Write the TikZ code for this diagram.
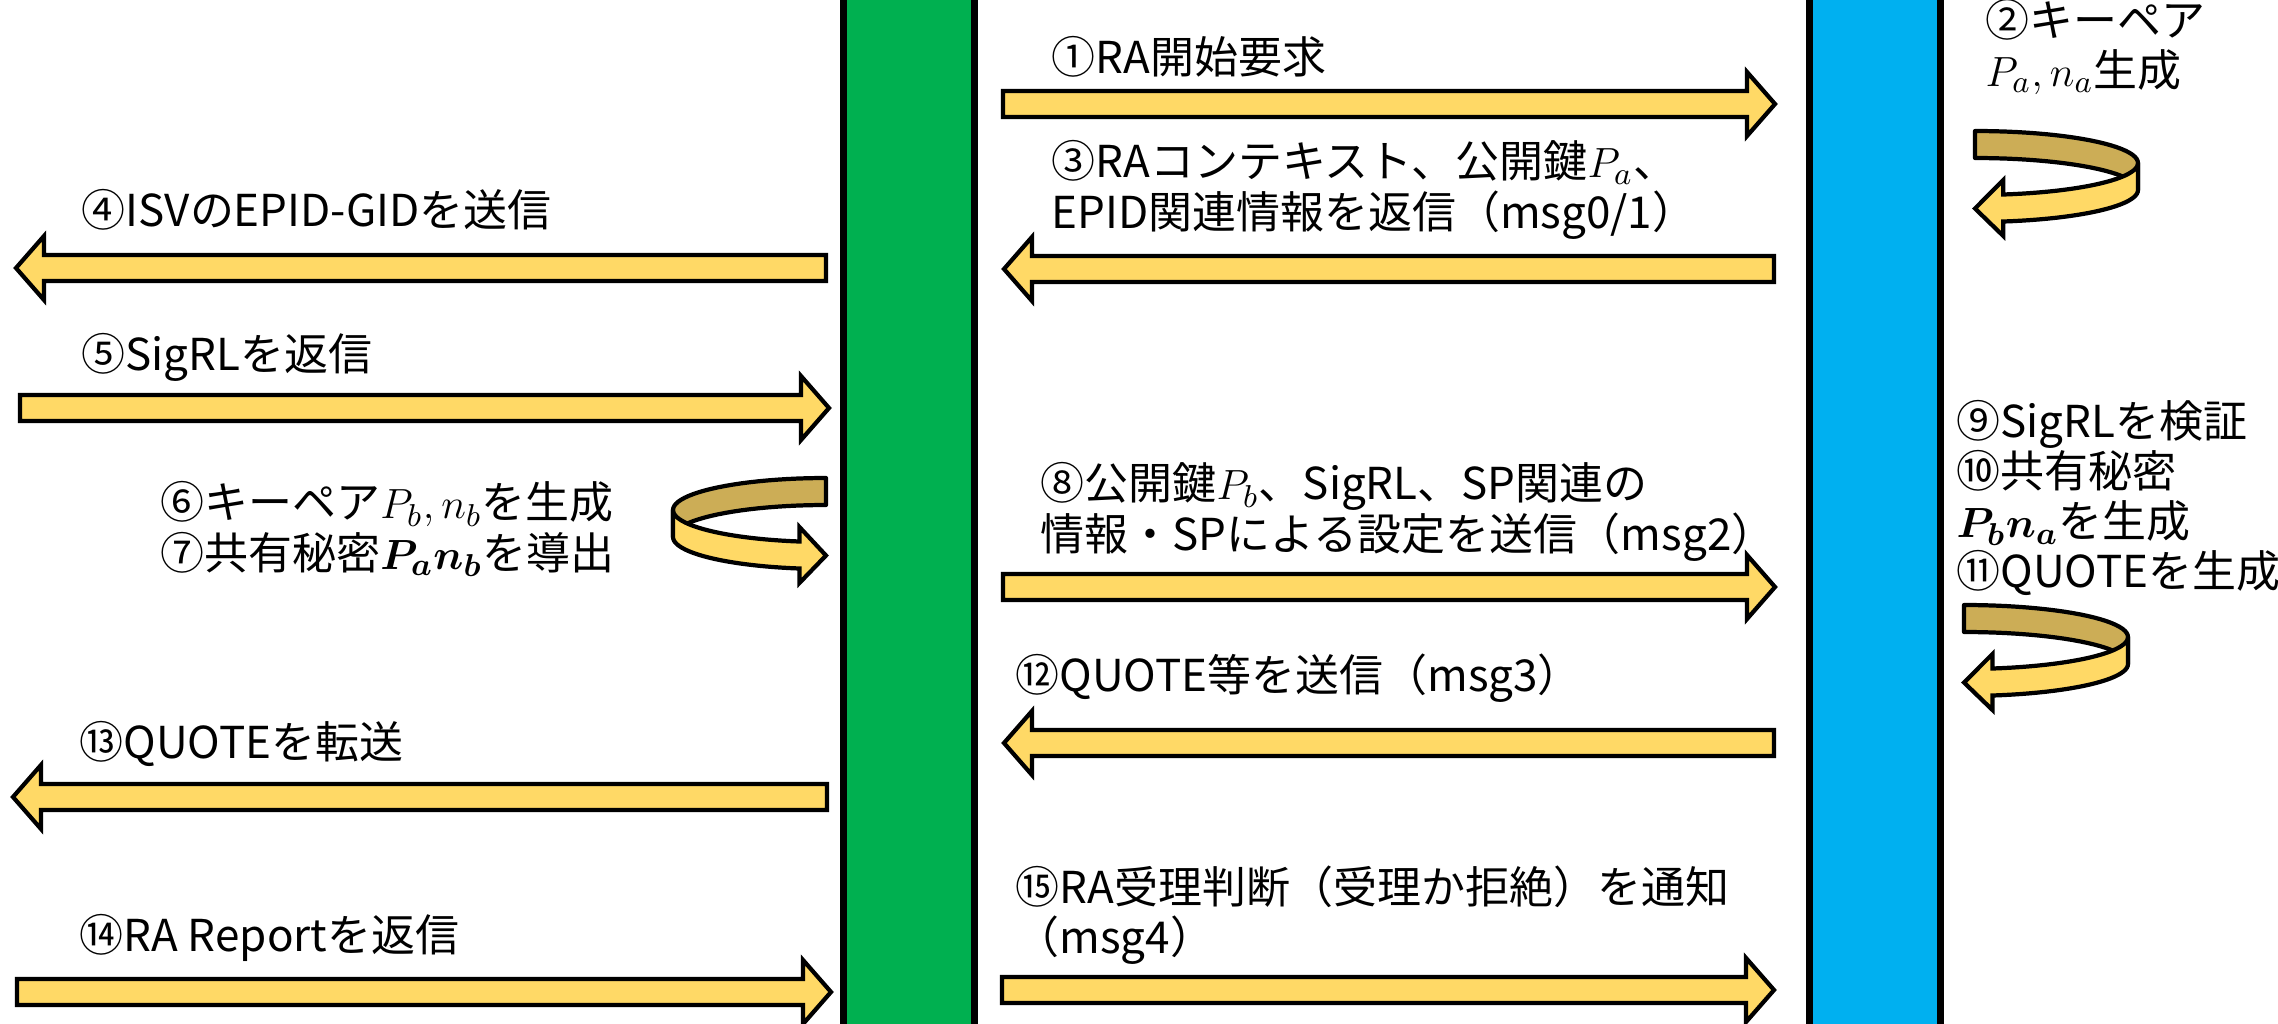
\documentclass[tikz,border=0pt]{standalone}
\usepackage{amsmath}
\usepackage{bm}
\usepackage{fontspec}
\setmainfont{Noto Sans CJK JP}
\usepackage{tikz}

\definecolor{spgreen}{RGB}{0,176,80}
\definecolor{enclblue}{RGB}{0,176,240}
\definecolor{arrowfill}{RGB}{255,217,102}
\definecolor{arrowback}{RGB}{204,173,86}

\tikzset{
  lifeline/.style={draw=black, line width=2pt, inner sep=0pt,
    minimum width=1.31cm, minimum height=11cm},
  blockarrow/.style={draw=black, line width=1.2pt, fill=arrowfill, line join=miter},
  turnback/.style={draw=black, line width=1.2pt, fill=arrowback, line join=round},
  turnfront/.style={draw=black, line width=1.2pt, fill=arrowfill, line join=miter},
  msg/.style={anchor=west, inner sep=0pt, align=left,
    font=\fontsize{12.5}{14.3}\selectfont}
}

% U-turn arrow: centre x, top line y, signed x radius
\newcommand{\uturn}[3]{%
  \draw[turnback] plot[domain=-90:0, samples=25, variable=\t]
      ({#1+#3*cos(\t)},{#2+32*sin(\t)})
    -- plot[domain=0:-90, samples=25, variable=\t]
      ({#1+#3*cos(\t)},{#2+27+32*sin(\t)}) -- cycle;
  \draw[turnfront] plot[domain=0:80, samples=25, variable=\t]
      ({#1+#3*cos(\t)},{#2+32*sin(\t)})
    -- ({#1+#3*cos(80)},{#2+45-28})
    -- (#1,{#2+45.5})
    -- ({#1+#3*cos(80)},{#2+45+28})
    -- plot[domain=80:0, samples=25, variable=\t]
      ({#1+#3*cos(\t)},{#2+27+32*sin(\t)}) -- cycle;
}

\begin{document}
\begin{tikzpicture}[x=0.01cm, y=-0.01cm]
  \useasboundingbox (0,0) rectangle (2278,1024);

  \node[lifeline, fill=spgreen] (sp) at (909,512) {};
  \node[lifeline, fill=enclblue] (encl) at (1875,512) {};

  % arrows to the right
  \foreach \xa/\xb/\y in {1003/1775/104, 20/829/408, 1003/1775/587, 17/831/992, 1002/1774/990}
    \draw[blockarrow] (\xa,\y-13) -- (\xb-28,\y-13) -- (\xb-28,\y-32) -- (\xb,\y)
      -- (\xb-28,\y+32) -- (\xb-28,\y+13) -- (\xa,\y+13) -- cycle;
  % arrows to the left
  \foreach \xa/\xb/\y in {1004/1774/269, 16/826/268, 1004/1774/743, 13/827/797}
    \draw[blockarrow] (\xb,\y-13) -- (\xa+28,\y-13) -- (\xa+28,\y-32) -- (\xa,\y)
      -- (\xa+28,\y+32) -- (\xa+28,\y+13) -- (\xb,\y+13) -- cycle;

  \uturn{1975}{163}{163}
  \uturn{826}{510}{-153}
  \uturn{1964}{637}{164}

  \node[msg] (m1) at (1051,57) {①RA開始要求};
  \node[msg] (m2) at (1985,47) {②キーペア\\$P_a, n_a$生成};
  \node[msg] (m3) at (1051,190) {③RAコンテキスト、公開鍵$P_a$、\\EPID関連情報を返信（msg0/1）};
  \node[msg] (m4) at (81,210) {④ISVのEPID-GIDを送信};
  \node[msg] (m5) at (81,357) {⑤SigRLを返信};
  \node[msg] (m6) at (160,529) {⑥キーペア$P_b, n_b$を生成\\⑦共有秘密$\bm{P_a n_b}$を導出};
  \node[msg] (m8) at (1040,512) {⑧公開鍵$P_b$、SigRL、SP関連の\\情報・SPによる設定を送信（msg2）};
  \node[msg] (m9) at (1956,498) {⑨SigRLを検証\\⑩共有秘密\\$\bm{P_b n_a}$を生成\\⑪QUOTEを生成};
  \node[msg] (m12) at (1015,678) {⑫QUOTE等を送信（msg3）};
  \node[msg] (m13) at (79,744) {⑬QUOTEを転送};
  \node[msg] (m14) at (79,938) {⑭RA Reportを返信};
  \node[msg] (m15) at (1015,915) {⑮RA受理判断（受理か拒絶）を通知\\（msg4）};
\end{tikzpicture}
\end{document}
